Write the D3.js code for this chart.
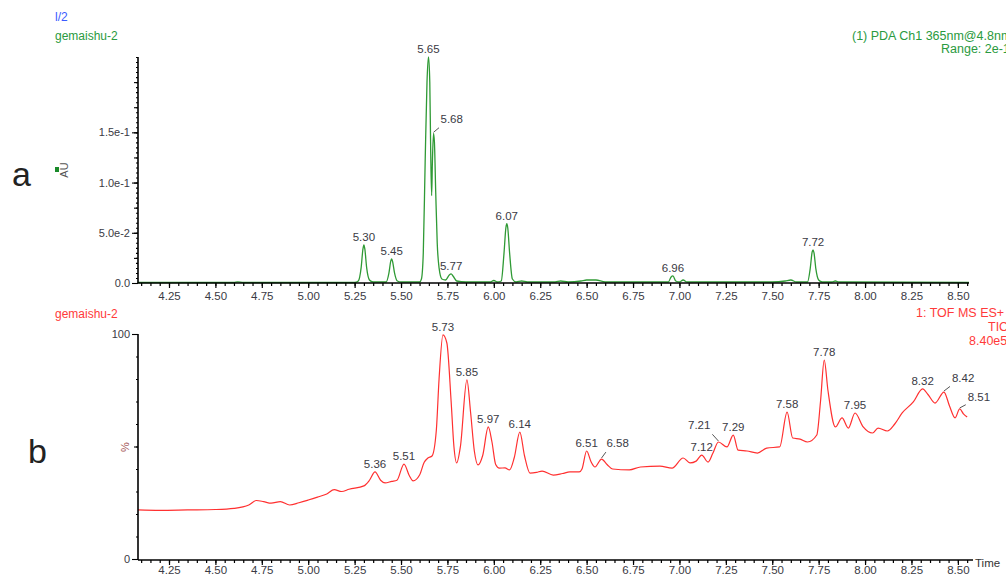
<!DOCTYPE html>
<html>
<head>
<meta charset="utf-8">
<script src="https://cdn.jsdelivr.net/npm/d3@7"></script>
<style>
  body { margin: 0; background: #fff; overflow: hidden; }
  svg { font-family: "Liberation Sans", Arial, sans-serif; }
</style>
</head>
<body>
<svg id="chart" width="1006" height="576"></svg>
<script>
// time axis (min)
var timeTicks = [4.25, 4.50, 4.75, 5.00, 5.25, 5.50, 5.75, 6.00, 6.25, 6.50, 6.75, 7.00, 7.25, 7.50, 7.75, 8.00, 8.25, 8.50];

// (a) PDA 365nm, AU
var pdaTicks = [0, 0.05, 0.10, 0.15];
var pdaTickLabels = ["0.0", "5.0e-2", "1.0e-1", "1.5e-1"];
var pdaTrace = [
  [4.08, 0.0005], [4.60, 0.0005], [4.62, 0.0012], [4.65, 0.0005], [5.25, 0.0005],
  [5.27, 0.002], [5.285, 0.015], [5.295, 0.034], [5.30, 0.038], [5.305, 0.034], [5.315, 0.015], [5.33, 0.003],
  [5.35, 0.001], [5.42, 0.001], [5.435, 0.010], [5.445, 0.022], [5.45, 0.024], [5.455, 0.021], [5.465, 0.010],
  [5.48, 0.002], [5.50, 0.001], [5.60, 0.001], [5.61, 0.004], [5.62, 0.030], [5.63, 0.120], [5.64, 0.200],
  [5.648, 0.225], [5.655, 0.200], [5.66, 0.130], [5.665, 0.087], [5.669, 0.120], [5.675, 0.149], [5.68, 0.140],
  [5.687, 0.090], [5.695, 0.040], [5.705, 0.015], [5.72, 0.004], [5.74, 0.003], [5.76, 0.008], [5.77, 0.009],
  [5.78, 0.007], [5.80, 0.002], [5.85, 0.001], [5.98, 0.001], [6.00, 0.0025], [6.02, 0.001], [6.04, 0.002],
  [6.055, 0.030], [6.065, 0.055], [6.07, 0.059], [6.075, 0.055], [6.085, 0.030], [6.10, 0.004], [6.12, 0.001],
  [6.15, 0.002], [6.18, 0.001], [6.33, 0.001], [6.36, 0.002], [6.40, 0.001], [6.47, 0.002], [6.50, 0.003],
  [6.55, 0.003], [6.60, 0.001], [6.94, 0.001], [6.955, 0.006], [6.965, 0.007], [6.98, 0.002], [7.00, 0.001],
  [7.02, 0.003], [7.04, 0.001], [7.50, 0.001], [7.57, 0.002], [7.60, 0.003], [7.63, 0.001], [7.69, 0.001],
  [7.705, 0.015], [7.715, 0.031], [7.72, 0.033], [7.725, 0.030], [7.735, 0.014], [7.75, 0.003], [7.77, 0.001],
  [7.82, 0.001], [7.84, 0.002], [7.86, 0.001], [8.56, 0.0005]
];
var pdaPeaks = [
  [5.30, 0.038, "5.30"], [5.45, 0.024, "5.45"], [5.648, 0.225, "5.65"], [5.675, 0.149, "5.68"],
  [5.77, 0.009, "5.77"], [6.07, 0.059, "6.07"], [6.965, 0.007, "6.96"], [7.72, 0.033, "7.72"]
];

// (b) TOF MS ES+ TIC, %
var ticTicks = [0, 100];
var ticTrace = [
  [4.083, 21.8], [4.2, 21.6], [4.35, 21.8], [4.5, 22], [4.6, 22.5], [4.68, 24], [4.72, 26], [4.76, 25.5],
  [4.8, 24.8], [4.85, 25.5], [4.9, 24], [4.95, 25], [5.0, 26.2], [5.05, 27.5], [5.1, 28.9], [5.14, 30.8],
  [5.18, 30], [5.22, 31], [5.3, 32.5], [5.33, 35], [5.36, 38.7], [5.39, 35], [5.414, 33.8], [5.45, 34.5],
  [5.478, 35], [5.516, 42.2], [5.545, 37], [5.565, 34.7], [5.60, 37.3], [5.625, 43], [5.645, 44.9],
  [5.667, 45.8], [5.69, 57], [5.705, 80], [5.726, 99.6], [5.747, 96], [5.77, 70], [5.785, 50], [5.80, 42.7],
  [5.82, 50], [5.855, 79.6], [5.875, 65], [5.895, 48], [5.915, 41.8], [5.94, 46], [5.97, 58.7], [5.99, 52],
  [6.01, 42], [6.03, 40.4], [6.06, 40.5], [6.085, 39.6], [6.11, 45], [6.14, 56.4], [6.165, 46], [6.195, 38.2],
  [6.23, 38.5], [6.26, 39.1], [6.32, 37.3], [6.37, 38], [6.41, 38.7], [6.46, 38.7], [6.475, 40], [6.50, 48],
  [6.525, 43], [6.545, 40.9], [6.58, 44.4], [6.61, 42], [6.64, 40], [6.73, 39.6], [6.79, 40.9], [6.895, 41.3],
  [6.96, 40.4], [7.02, 44.9], [7.057, 42.7], [7.09, 43.5], [7.12, 46.2], [7.154, 43.1], [7.18, 47], [7.21, 52],
  [7.256, 49.8], [7.29, 55.1], [7.316, 48.4], [7.364, 48], [7.42, 47.1], [7.47, 49.3], [7.54, 49.8],
  [7.58, 65.3], [7.61, 53.8], [7.65, 53.3], [7.69, 52], [7.74, 55.1], [7.76, 70], [7.78, 88.4], [7.80, 75],
  [7.84, 58.7], [7.876, 62.7], [7.91, 58.2], [7.946, 64.9], [7.99, 58.7], [8.04, 56], [8.07, 58.2],
  [8.12, 56.9], [8.16, 60], [8.20, 64.9], [8.26, 69.8], [8.31, 75.6], [8.34, 73], [8.377, 69.3],
  [8.425, 74.2], [8.455, 68], [8.485, 62.7], [8.51, 66.7], [8.53, 64.5], [8.55, 63.1]
];
var ticPeaks = [
  [5.36, 38.7, "5.36"], [5.516, 42.2, "5.51"], [5.726, 99.6, "5.73"], [5.855, 79.6, "5.85"],
  [5.97, 58.7, "5.97"], [6.14, 56.4, "6.14"], [6.50, 48, "6.51"], [6.58, 44.4, "6.58"],
  [7.12, 46.2, "7.12"], [7.21, 52, "7.21"], [7.29, 55.1, "7.29"], [7.58, 65.3, "7.58"],
  [7.78, 88.4, "7.78"], [7.946, 64.9, "7.95"], [8.31, 75.6, "8.32"], [8.425, 74.2, "8.42"], [8.51, 66.7, "8.51"]
];

var Chromatogram = (function() {

    var svg = d3.select("#chart");
    var axisColor = "#000";
    var textColor = "#3a3a44";
    // labels pushed off their peak, joined by a short leader line
    var leaders = { "5.68": [10, -8], "6.58": [8, -10], "7.21": [-11, -11], "8.42": [11, -8], "8.51": [11, -6] };

    var x = d3.scaleLinear().domain([4.083, 8.56]).range([138, 969]);
    var minorTime = d3.range(82, 172).map(function(i) { return i * 0.05; });

    function timeAxis(y0, xEnd, pad) {
        var g = svg.append("g").attr("transform", "translate(0," + y0 + ")");
        g.append("g")
          .call(d3.axisBottom(x).tickValues(minorTime).tickSize(3).tickFormat(""))
          .call(function(s) { s.select(".domain").remove(); });
        g.append("g")
          .call(d3.axisBottom(x).tickValues(timeTicks).tickSize(5).tickPadding(pad).tickFormat(d3.format(".2f")))
          .call(function(s) { s.select(".domain").remove(); })
          .selectAll("text")
          .attr("fill", textColor)
          .style("font-size", "11.5px");
        g.selectAll(".tick line").attr("stroke", axisColor).attr("stroke-width", 1.2);
        g.append("line")
          .attr("x1", 138).attr("x2", xEnd)
          .attr("stroke", axisColor).attr("stroke-width", 1.6);
    }

    function yAxis(y, major, labels, mids, minors, yTop, yBottom) {
        var g = svg.append("g").attr("transform", "translate(138,0)");
        g.append("g").call(d3.axisLeft(y).tickValues(minors).tickSize(2).tickFormat(""));
        g.append("g").call(d3.axisLeft(y).tickValues(mids).tickSize(4).tickFormat(""));
        g.append("g")
          .call(d3.axisLeft(y).tickValues(major).tickSize(6).tickPadding(2)
            .tickFormat(function(d, i) { return labels[i]; }))
          .selectAll("text")
          .attr("fill", textColor)
          .style("font-size", "11px");
        g.selectAll(".domain").remove();
        g.selectAll(".tick line").attr("stroke", axisColor).attr("stroke-width", 1.1);
        g.append("line")
          .attr("y1", yTop).attr("y2", yBottom)
          .attr("stroke", axisColor).attr("stroke-width", 1.6);
    }

    function trace(data, y, color, width) {
        var line = d3.line()
          .x(function(d) { return x(d[0]); })
          .y(function(d) { return y(d[1]); })
          .curve(d3.curveMonotoneX);
        svg.append("path")
          .datum(data)
          .attr("d", line)
          .attr("fill", "none")
          .attr("stroke", color)
          .attr("stroke-width", width)
          .attr("stroke-linejoin", "round");
    }

    function peakLabels(peaks, y) {
        peaks.forEach(function(p) {
            var px = x(p[0]), py = y(p[1]);
            var off = leaders[p[2]];
            if (off) {
                svg.append("line")
                  .attr("x1", px).attr("y1", py - 1)
                  .attr("x2", px + off[0] * 0.55).attr("y2", py + off[1] * 0.7)
                  .attr("stroke", "#555").attr("stroke-width", 1);
                svg.append("text")
                  .attr("x", px + off[0]).attr("y", py + off[1] - 2)
                  .attr("text-anchor", off[0] > 0 ? "start" : "end")
                  .attr("dx", off[0] > 0 ? -3 : 3)
                  .attr("fill", textColor).style("font-size", "11.5px")
                  .text(p[2]);
            } else {
                svg.append("text")
                  .attr("x", px).attr("y", py - 4)
                  .attr("text-anchor", "middle")
                  .attr("fill", textColor).style("font-size", "11.5px")
                  .text(p[2]);
            }
        });
    }

    function text(tx, ty, s, color, size, anchor) {
        return svg.append("text")
          .attr("x", tx).attr("y", ty)
          .attr("fill", color)
          .attr("text-anchor", anchor || "start")
          .style("font-size", size + "px")
          .text(s);
    }

    function init() {
        // panel a
        var yA = d3.scaleLinear().domain([0, 0.225]).range([283, 57]);
        trace(pdaTrace, yA, "#2f9a35", 1.3);
        yAxis(yA, pdaTicks, pdaTickLabels,
              d3.range(1, 9).map(function(i) { return i * 0.025; }),
              d3.range(0, 46).map(function(i) { return i * 0.005; }), 57, 283);
        timeAxis(283, 969, 4);
        peakLabels(pdaPeaks, yA);

        text(55, 21, "l/2", "#3b5bff", 12);
        text(55, 40, "gemaishu-2", "#2a9a40", 12);
        text(852, 40, "(1) PDA Ch1 365nm@4.8nm", "#2a9a40", 12.5);
        text(941, 53, "Range: 2e-1", "#2a9a40", 12.5);
        svg.append("rect").attr("x", 55).attr("y", 167).attr("width", 4).attr("height", 5).attr("fill", "#1a8a2a");
        text(0, 0, "AU", "#555", 11, "middle").attr("transform", "translate(68,170) rotate(-90)");
        text(12, 186, "a", "#222", 34);

        // panel b
        var yB = d3.scaleLinear().domain([0, 100]).range([559, 334]);
        trace(ticTrace, yB, "#ff3030", 1.2);
        yAxis(yB, ticTicks, ["0", "100"], [50],
              d3.range(0, 11).map(function(i) { return i * 10; }), 334, 560);
        timeAxis(560, 973, 1);
        peakLabels(ticPeaks, yB);

        text(975, 567, "Time", "#333", 11.5);
        text(55, 318, "gemaishu-2", "#ff3a3a", 12);
        text(916, 317, "1: TOF MS ES+", "#ff3a3a", 12.5);
        text(988, 331, "TIC", "#ff3a3a", 12.5);
        text(969, 345, "8.40e5", "#ff3a3a", 12.5);
        text(0, 0, "%", "#a05050", 11, "middle").attr("transform", "translate(129,447) rotate(-90)");
        text(28, 463, "b", "#222", 34);
    }

    return { "init": init };

})();

Chromatogram.init();
</script>
</body>
</html>
